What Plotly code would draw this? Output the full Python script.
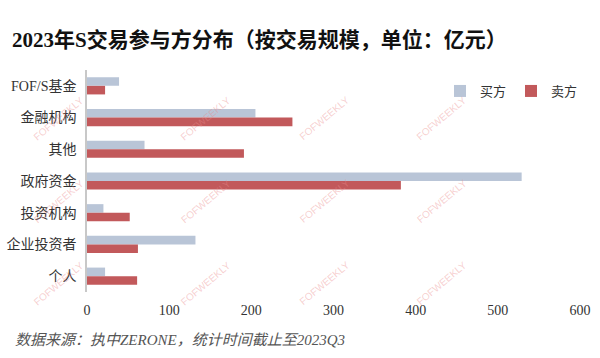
import plotly.graph_objects as go

categories = ["FOF/S基金", "金融机构", "其他", "政府资金", "投资机构", "企业投资者", "个人"]
buyer = [39, 205, 70, 529, 20, 132, 22]
seller = [22, 250, 191, 382, 52, 62, 61]
series_names = ["买方", "卖方"]
x_ticks = [0, 100, 200, 300, 400, 500, 600]

W, H = 600, 358
L, R, T, B = 87, 20, 70, 66

fig = go.Figure()
fig.add_trace(go.Bar(y=categories, x=buyer, name=series_names[0], orientation="h",
                     marker=dict(color="#b9c5d7", line=dict(width=0))))
fig.add_trace(go.Bar(y=categories, x=seller, name=series_names[1], orientation="h",
                     marker=dict(color="#c2595b", line=dict(width=0))))

# watermarks
pw, ph = W - L - R, H - T - B
ann = []
for py in [92, 201, 310]:
    for px in [29, 176, 324, 471]:
        ann.append(dict(text="FOFWEEKLY", x=(px - L) / pw, y=(H - B - py) / ph,
                        xref="paper", yref="paper", showarrow=False, textangle=-40,
                        font=dict(family="Liberation Sans", size=10, color="rgba(235,140,140,0.42)")))
ann.append(dict(text="数据来源：执中ZERONE，统计时间截止至2023Q3", x=(13 - L) / pw, y=(H - B - 340) / ph,
                xref="paper", yref="paper", xanchor="left", yanchor="middle", showarrow=False,
                font=dict(family="Liberation Serif, Noto Sans CJK SC", size=15, color="#555555", style="italic")))

fig.update_layout(
    width=W, height=H,
    margin=dict(l=L, r=R, t=T, b=B, autoexpand=False),
    paper_bgcolor="white", plot_bgcolor="white",
    barmode="group", bargap=0.46, bargroupgap=0,
    title=dict(text="<b>2023年S交易参与方分布（按交易规模，单位：亿元）</b>",
               x=12 / W, xanchor="left", xref="container", y=1 - 40 / H, yanchor="middle",
               font=dict(family="Liberation Serif, Noto Sans CJK SC", size=21, color="#111111")),
    font=dict(family="Liberation Serif, Noto Sans CJK SC", size=14, color="#333333"),
    legend=dict(orientation="h", x=(440 - L) / pw, y=(H - B - 76) / ph, xanchor="left", yanchor="top",
                font=dict(size=13, color="#333333"), bgcolor="rgba(0,0,0,0)",
                itemwidth=30, tracegroupgap=0),
    xaxis=dict(range=[0, 600], tickvals=x_ticks, showgrid=False, zeroline=False, automargin=False,
               showline=False, ticks="", tickfont=dict(size=14, color="#333333"),
               ticklabelstandoff=8),
    yaxis=dict(autorange="reversed", showline=True, linecolor="#c8c8c8", linewidth=1.5, automargin=False,
               ticks="", showgrid=False, tickfont=dict(size=14, color="#333333"),
               ticklabelstandoff=6),
    annotations=ann,
)
fig.write_html("out.html")
